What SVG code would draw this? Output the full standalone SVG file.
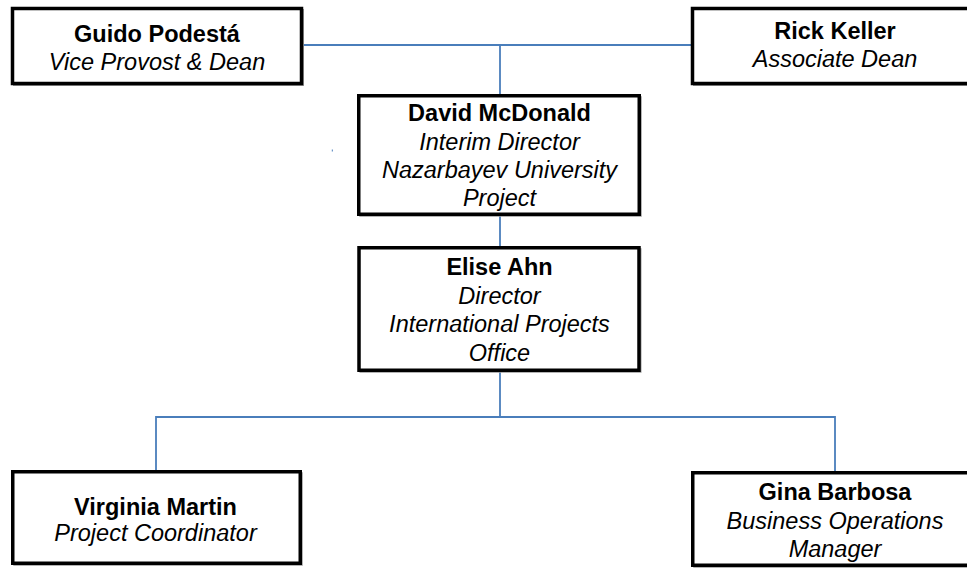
<svg xmlns="http://www.w3.org/2000/svg" width="967" height="568" viewBox="0 0 967 568">
<style>
.box{fill:#fff;stroke:#000;stroke-width:3.5}
.sh{fill:none;stroke:#9a9a9a;stroke-width:2}
.c{fill:none;stroke:#4a7ebb;stroke-width:1.8}
text{font-family:"Liberation Sans",Arial,sans-serif;font-size:23.5px;fill:#000;text-anchor:middle}
.b{font-weight:bold}
.i{font-style:italic}
</style>
<rect width="967" height="568" fill="#fff"/>
<g id="connectors">
<line class="c" x1="303" y1="45" x2="691" y2="45"/>
<line class="c" x1="500" y1="45" x2="500" y2="95"/>
<line class="c" x1="500" y1="215" x2="500" y2="247"/>
<line class="c" x1="500" y1="371" x2="500" y2="417"/>
<polyline class="c" points="156,471 156,417 835,417 835,472"/>
<rect x="331.8" y="149.5" width="1" height="2" fill="#4a7ebb"/>
</g>
<g id="guido">
<rect class="sh" x="14" y="10" width="289" height="75"/>
<rect class="box" x="12.5" y="8.5" width="289" height="75"/>
<text class="b" x="157" y="41.5">Guido Podestá</text>
<text class="i" x="157" y="69.5">Vice Provost &amp; Dean</text>
</g>
<g id="rick">
<rect class="sh" x="694" y="10" width="289" height="75"/>
<rect class="box" x="692.5" y="8.5" width="289" height="75"/>
<text class="b" x="835" y="38.5">Rick Keller</text>
<text class="i" x="835" y="66.5">Associate Dean</text>
</g>
<g id="david">
<rect class="sh" x="360.25" y="97.25" width="280.5" height="118.5"/>
<rect class="box" x="358.75" y="95.75" width="280.5" height="118.5"/>
<text class="b" x="499.5" y="120.5">David McDonald</text>
<text class="i" x="499.5" y="149.5">Interim Director</text>
<text class="i" x="499.5" y="178">Nazarbayev University</text>
<text class="i" x="499.5" y="206">Project</text>
</g>
<g id="elise">
<rect class="sh" x="360.5" y="249.25" width="280" height="122.5"/>
<rect class="box" x="359" y="247.75" width="280" height="122.5"/>
<text class="b" x="499.5" y="275">Elise Ahn</text>
<text class="i" x="499.5" y="303.5">Director</text>
<text class="i" x="499.5" y="332">International Projects</text>
<text class="i" x="499.5" y="360.5">Office</text>
</g>
<g id="virginia">
<rect class="sh" x="14.25" y="473.25" width="287.5" height="91.5"/>
<rect class="box" x="12.75" y="471.75" width="287.5" height="91.5"/>
<text class="b" x="155.5" y="515">Virginia Martin</text>
<text class="i" x="155.5" y="540.5">Project Coordinator</text>
</g>
<g id="gina">
<rect class="sh" x="694.25" y="474.25" width="289" height="92.5"/>
<rect class="box" x="692.75" y="472.75" width="289" height="92.5"/>
<text class="b" x="835" y="500">Gina Barbosa</text>
<text class="i" x="835" y="528.5">Business Operations</text>
<text class="i" x="835" y="556.5">Manager</text>
</g>
</svg>
